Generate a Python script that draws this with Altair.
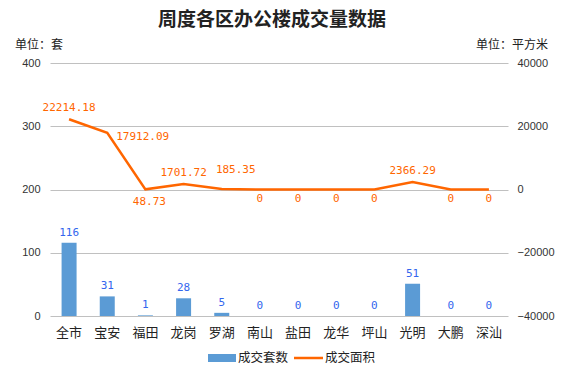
import altair as alt
import pandas as pd

categories = ["全市", "宝安", "福田", "龙岗", "罗湖", "南山", "盐田", "龙华", "坪山", "光明", "大鹏", "深汕"]
counts = [116, 31, 1, 28, 5, 0, 0, 0, 0, 51, 0, 0]
areas = [22214.18, 17912.09, 48.73, 1701.72, 185.35, 0, 0, 0, 0, 2366.29, 0, 0]
left_ticks = [0, 100, 200, 300, 400]
right_ticks = [-40000, -20000, 0, 20000, 40000]

df = pd.DataFrame({"区域": categories, "成交套数": counts, "成交面积": areas})
one = pd.DataFrame({"k": [0]})

FONT = "Noto Sans CJK SC"
NUMFONT = "DejaVu Sans Mono"
BLUE = "#5b9bd5"
ORANGE = "#ff6600"
LABEL_BLUE = "#3366ee"

xenc = alt.X("区域:N", sort=categories, scale=alt.Scale(paddingInner=0, paddingOuter=0),
             axis=alt.Axis(title=None, labelAngle=0, labelFontSize=13, labelFont=FONT,
                           labelColor="#222", ticks=False, domain=False, labelPadding=10))

ycount = alt.Y("成交套数:Q", scale=alt.Scale(domain=[0, 400], nice=False),
               axis=alt.Axis(title=None, values=left_ticks, grid=True, gridColor="#c0c0c0",
                             ticks=False, domain=False, labelFont="Liberation Sans",
                             labelFontSize=11, labelColor="#333", labelPadding=10, orient="left",
                             format="d"))

bars = alt.Chart(df).mark_bar(size=15, color=BLUE).encode(x=xenc, y=ycount)
bar_text = alt.Chart(df).mark_text(dy=-10, font=NUMFONT, fontSize=11, color=LABEL_BLUE).encode(
    x=alt.X("区域:N", sort=categories), y=alt.Y("成交套数:Q"), text="成交套数:Q")
bar_layer = alt.layer(bars, bar_text)

yarea = alt.Y("成交面积:Q", scale=alt.Scale(domain=[-40000, 40000], nice=False),
              axis=alt.Axis(title=None, values=right_ticks, grid=False, ticks=False, domain=False,
                            labelFont="Liberation Sans", labelFontSize=11, labelColor="#333",
                            labelPadding=9, orient="right", format="d"))

line = alt.Chart(df).mark_line(color=ORANGE, strokeWidth=2.5).encode(
    x=alt.X("区域:N", sort=categories), y=yarea)

def area_labels(cats, **kw):
    return alt.Chart(df).transform_filter(
        alt.FieldOneOfPredicate(field="区域", oneOf=cats)
    ).transform_calculate(
        lab="datum['成交面积'] == 0 ? '0' : format(datum['成交面积'], '.2f')"
    ).mark_text(font=NUMFONT, fontSize=11, color=ORANGE, **kw).encode(
        x=alt.X("区域:N", sort=categories), y=alt.Y("成交面积:Q"), text="lab:N")

lab_above = area_labels(["全市", "龙岗", "光明"], dy=-11)
lab_right = area_labels(["宝安"], dx=9, dy=4, align="left")
lab_luohu = area_labels(["罗湖"], dx=14, dy=-19)
lab_futian = area_labels(["福田"], dx=4, dy=13)
lab_zero = area_labels(["南山", "盐田", "龙华", "坪山", "大鹏", "深汕"], dy=9)

line_layer = alt.layer(line, lab_above, lab_right, lab_luohu, lab_futian, lab_zero)

# title, units and legend
title = alt.Chart(one).mark_text(text="周度各区办公楼成交量数据", font=FONT, fontSize=19,
                                 fontWeight="bold", color="#222").encode(
    x=alt.value(222), y=alt.value(-43))
unit_l = alt.Chart(one).mark_text(text="单位：套", font=FONT, fontSize=12, align="left",
                                  color="#222").encode(x=alt.value(-35), y=alt.value(-18))
unit_r = alt.Chart(one).mark_text(text="单位：平方米", font=FONT, fontSize=12, align="right",
                                  color="#222").encode(x=alt.value(498), y=alt.value(-18))
leg_rect = alt.Chart(one).mark_rect(color=BLUE).encode(
    x=alt.value(158), x2=alt.value(186), y=alt.value(291), y2=alt.value(299))
leg_t1 = alt.Chart(one).mark_text(text="成交套数", font=FONT, fontSize=12.5, align="left",
                                  color="#222").encode(x=alt.value(188), y=alt.value(295))
leg_line = alt.Chart(one).mark_rule(color=ORANGE, strokeWidth=2.5).encode(
    x=alt.value(244), x2=alt.value(273), y=alt.value(295))
leg_t2 = alt.Chart(one).mark_text(text="成交面积", font=FONT, fontSize=12.5, align="left",
                                  color="#222").encode(x=alt.value(275), y=alt.value(295))

chart = alt.layer(bar_layer, line_layer, title, unit_l, unit_r, leg_rect, leg_t1, leg_line, leg_t2
).resolve_scale(y="independent").properties(
    width=458, height=253,
    autosize=alt.AutoSizeParams(type="none"),
    padding={"left": 50, "top": 63, "right": 73, "bottom": 54},
    background="white",
).configure_view(stroke=None)

chart.save("out.html", embed_options={"renderer": "svg", "actions": False})
